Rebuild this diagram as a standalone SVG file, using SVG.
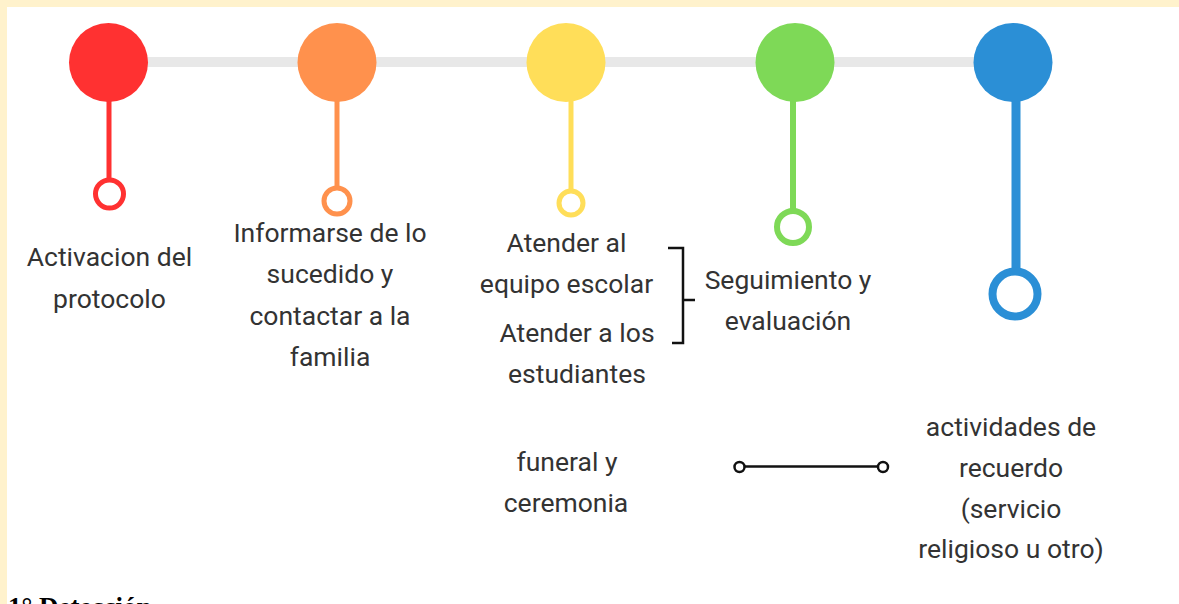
<svg xmlns="http://www.w3.org/2000/svg" width="1179" height="604" viewBox="0 0 1179 604">
<style>
.t{font-family:Roboto,"Liberation Sans",sans-serif;font-size:26.5px;fill:#333;text-anchor:middle}
.h{font-family:"Liberation Serif",serif;font-size:27px;font-weight:bold;fill:#000}
.ring{fill:#fff}
</style>
<rect x="0" y="0" width="1179" height="604" fill="#FFF2CC"/>
<rect x="7" y="7" width="1172" height="597" fill="#fff"/>
<g id="connectors">
<line x1="108" y1="62" x2="1013" y2="62" stroke="#E8E8E8" stroke-width="10"/>
<line x1="109" y1="95" x2="109" y2="180" stroke="#FF3131" stroke-width="5"/>
<line x1="337" y1="95" x2="337" y2="188" stroke="#FF914D" stroke-width="5"/>
<line x1="571" y1="95" x2="571" y2="191" stroke="#FFDE59" stroke-width="5"/>
<line x1="793" y1="95" x2="793" y2="210" stroke="#7ED957" stroke-width="6"/>
<line x1="1016" y1="95" x2="1016" y2="268" stroke="#2B8FD6" stroke-width="9"/>
<path d="M668 248 H683 V343 H672 M683 300 H695" fill="none" stroke="#111" stroke-width="2.5"/>
<line x1="745" y1="466.5" x2="877" y2="466.5" stroke="#111" stroke-width="2.5"/>
<circle cx="739.5" cy="467" r="5" fill="#fff" stroke="#111" stroke-width="2.5"/>
<circle cx="883" cy="467" r="5" fill="#fff" stroke="#111" stroke-width="2.5"/>
</g>
<g id="n1">
<circle cx="108.5" cy="62.5" r="39.5" fill="#FF3131"/>
<circle class="ring" cx="109.5" cy="194" r="14" stroke="#FF3131" stroke-width="5"/>
<text class="t" x="109.5" y="266">Activacion del</text>
<text class="t" x="109.5" y="308">protocolo</text>
</g>
<g id="n2">
<circle cx="337" cy="62.5" r="39.5" fill="#FF914D"/>
<circle class="ring" cx="337" cy="201" r="13" stroke="#FF914D" stroke-width="5"/>
<text class="t" x="330" y="242">Informarse de lo</text>
<text class="t" x="330" y="283">sucedido y</text>
<text class="t" x="330" y="325">contactar a la</text>
<text class="t" x="330" y="366">familia</text>
</g>
<g id="n3">
<circle cx="566" cy="62.5" r="39.5" fill="#FFDE59"/>
<circle class="ring" cx="571" cy="203" r="12" stroke="#FFDE59" stroke-width="5"/>
<text class="t" x="566.5" y="252">Atender al</text>
<text class="t" x="566.5" y="293">equipo escolar</text>
<text class="t" x="577" y="342">Atender a los</text>
<text class="t" x="577" y="383">estudiantes</text>
</g>
<g id="n4">
<circle cx="795" cy="62.5" r="39.5" fill="#7ED957"/>
<circle class="ring" cx="793" cy="227" r="16" stroke="#7ED957" stroke-width="6"/>
<text class="t" x="788" y="289">Seguimiento y</text>
<text class="t" x="788" y="330">evaluación</text>
</g>
<g id="n5">
<circle cx="1013" cy="62.5" r="39.5" fill="#2B8FD6"/>
<circle class="ring" cx="1015" cy="294" r="22.5" stroke="#2B8FD6" stroke-width="8"/>
<text class="t" x="1011" y="436">actividades de</text>
<text class="t" x="1011" y="477">recuerdo</text>
<text class="t" x="1011" y="518">(servicio</text>
<text class="t" x="1011" y="558">religioso u otro)</text>
</g>
<g id="n6">
<text class="t" x="567" y="471">funeral y</text>
<text class="t" x="566" y="512">ceremonia</text>
</g>
<text class="h" x="8" y="616">1° Detección</text>
</svg>
